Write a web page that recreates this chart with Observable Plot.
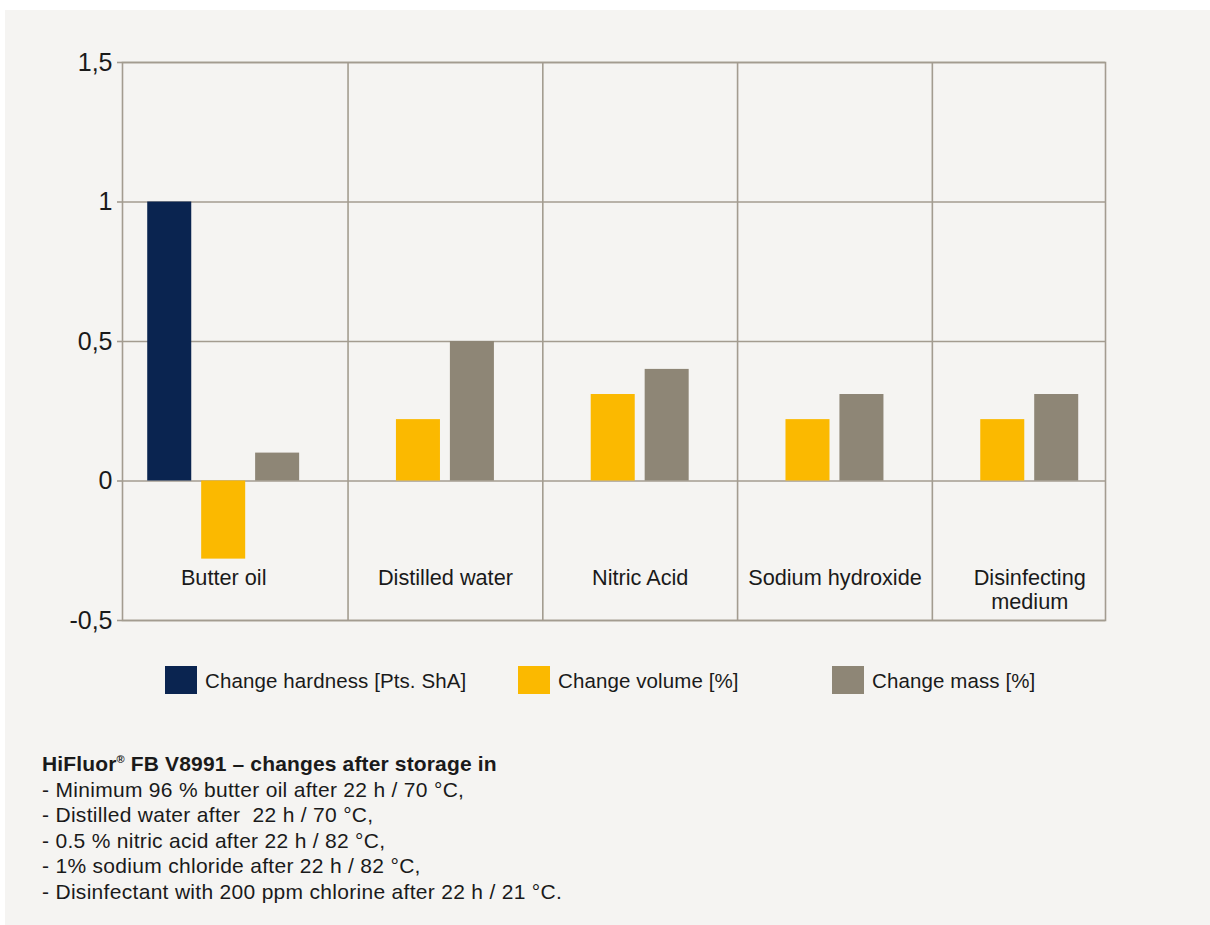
<!DOCTYPE html>
<html>
<head>
<meta charset="utf-8">
<script src="https://cdn.jsdelivr.net/npm/d3@7"></script>
<script src="https://cdn.jsdelivr.net/npm/@observablehq/plot@0.6"></script>
<style>
  html, body { margin: 0; padding: 0; background: #ffffff; }
  body { width: 1210px; height: 925px; position: relative; overflow: hidden;
         font-family: "Liberation Sans", Arial, Helvetica, sans-serif; color: #1a1a1a; }
  #panel { position: absolute; left: 5px; top: 10px; width: 1205px; height: 915px; background: #f5f4f2; }
  #chart { position: absolute; left: 0; top: 0; }
  #legend { position: absolute; left: 0; top: 666px; width: 1210px; height: 28px; }
  .item { position: absolute; top: 0; display: flex; align-items: center; height: 28px; font-size: 20.5px; white-space: nowrap; }
  .swatch { width: 32px; height: 28px; margin-right: 8px; flex: none; }
  .item span { padding-top: 2px; letter-spacing: 0.1px; }
  #caption { position: absolute; left: 42px; top: 751px; font-size: 21px; line-height: 25.6px; letter-spacing: 0.3px; white-space: pre; }
  #caption b { letter-spacing: 0.15px; }
  #caption b sup { font-size: 11px; vertical-align: 8px; line-height: 0; }
</style>
</head>
<body>
<div id="panel"></div>
<div id="chart"></div>
<div id="legend"></div>
<div id="caption"></div>
<script>
// ---- data ----
const categories = ["Butter oil", "Distilled water", "Nitric Acid", "Sodium hydroxide", "Disinfecting\nmedium"];
const seriesNames = ["Change hardness [Pts. ShA]", "Change volume [%]", "Change mass [%]"];
const seriesColors = ["#0a2450", "#fbb900", "#8e8676"];
const hardness = [1.0, null, null, null, null];
const volume   = [-0.28, 0.22, 0.31, 0.22, 0.22];
const mass     = [0.10, 0.50, 0.40, 0.31, 0.31];
const yTicks = [-0.5, 0, 0.5, 1, 1.5];
const captionTitle = "HiFluor® FB V8991 – changes after storage in";
const captionLines = [
  "- Minimum 96 % butter oil after 22 h / 70 °C,",
  "- Distilled water after  22 h / 70 °C,",
  "- 0.5 % nitric acid after 22 h / 82 °C,",
  "- 1% sodium chloride after 22 h / 82 °C,",
  "- Disinfectant with 200 ppm chlorine after 22 h / 21 °C."
];

// ---- layout helpers ----
const seriesValues = [hardness, volume, mass];
const slot = 0.277;          // distance between bar slots within a category
const barW = 0.226;          // bar width in category units
const gridColor = "#a39c90";

const rows = [];
categories.forEach((c, i) => {
  seriesValues.forEach((vals, k) => {
    const v = vals[i];
    if (v == null) return;
    const cx = i + 0.5 + (k - 1.5) * slot;
    rows.push({cat: c, series: seriesNames[k], value: v, x1: cx - barW / 2, x2: cx + barW / 2, cx});
  });
});
const labels = categories.map((c) => {
  const r = rows.filter(d => d.cat === c);
  return {label: c, x: d3.mean(r, d => d.cx)};
});

const chart = Plot.plot({
  width: 1210,
  height: 650,
  marginLeft: 122,
  marginRight: 105,
  marginTop: 62,
  marginBottom: 30,
  style: {background: "transparent", fontFamily: "'Liberation Sans', Arial, sans-serif", color: "#1a1a1a"},
  x: {type: "linear", domain: [-0.158, 4.889], axis: null},
  y: {domain: [-0.5, 1.5], axis: null},
  color: {domain: seriesNames, range: seriesColors},
  marks: [
    Plot.ruleY(yTicks, {stroke: gridColor, strokeWidth: 1.6}),
    Plot.ruleX(d3.range(1, categories.length), {stroke: gridColor, strokeWidth: 1.6}),
    Plot.frame({stroke: gridColor, strokeWidth: 1.6}),
    Plot.axisY(yTicks, {
      tickFormat: d => String(d).replace(".", ","),
      tickSize: 5, tickPadding: 5, stroke: gridColor, strokeWidth: 1.6,
      fill: "#1a1a1a", fontSize: 25, label: null
    }),
    Plot.rectY(rows, {x1: "x1", x2: "x2", y1: 0, y2: "value", fill: "series"}),
    Plot.text(labels, {x: "x", y: -0.315, text: "label", fontSize: 21.7, lineAnchor: "top", lineHeight: 1.07, fill: "#1a1a1a"})
  ]
});
document.getElementById("chart").appendChild(chart);

// ---- legend ----
const legendLeft = [165, 518, 832];
const legend = document.getElementById("legend");
seriesNames.forEach((s, k) => {
  const it = document.createElement("div");
  it.className = "item";
  it.style.left = legendLeft[k] + "px";
  const sw = document.createElement("div");
  sw.className = "swatch";
  sw.style.background = seriesColors[k];
  const tx = document.createElement("span");
  tx.textContent = s;
  it.appendChild(sw); it.appendChild(tx);
  legend.appendChild(it);
});

// ---- caption ----
const cap = document.getElementById("caption");
const b = document.createElement("b");
const parts = captionTitle.split("®");
b.appendChild(document.createTextNode(parts[0]));
const sup = document.createElement("sup"); sup.textContent = "®";
b.appendChild(sup);
b.appendChild(document.createTextNode(parts[1]));
cap.appendChild(b);
cap.appendChild(document.createTextNode("\n" + captionLines.join("\n")));
</script>
</body>
</html>
